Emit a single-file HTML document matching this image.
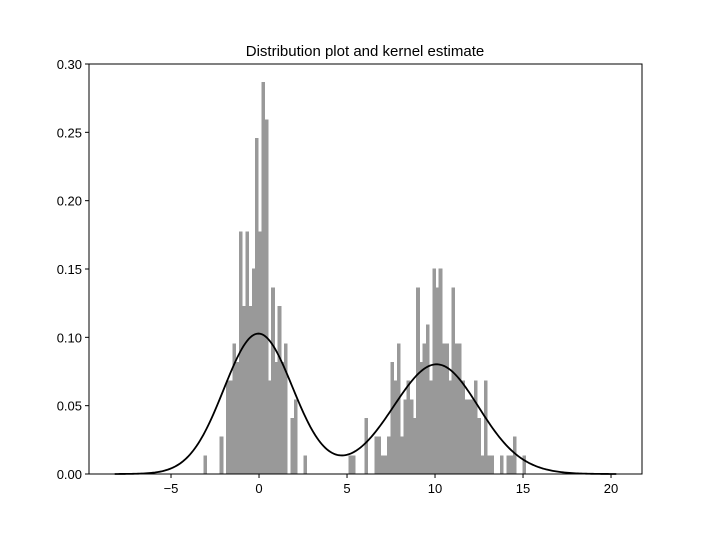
<!DOCTYPE html>
<html><head><meta charset="utf-8"><style>
body{margin:0;background:#fff;}
svg text{font-family:"Liberation Sans","DejaVu Sans",sans-serif;}
</style></head><body>
<svg id="chart" width="713" height="533" viewBox="0 0 713 533">
<rect width="713" height="533" fill="#fff"/>
<text x="365" y="56" text-anchor="middle" font-size="15">Distribution plot and kernel estimate</text>
<g id="bars"></g>
<path id="kde" fill="none" stroke="#000" stroke-width="1.8"/>
<g id="axes"></g>
</svg>
<script>
const binStart = -3.15;
const binWidth = 0.183;
const sampleCount = 400;
const binCounts = [
1,0,0,0,0,2,0,5,5,7,6,13,9,13,9,11,18,13,21,19,5,10,6,9,6,7,0,3,4,0,0,1,0,0,0,0,0,0,0,0,0,0,0,0,0,
1,1,0,0,0,3,0,0,2,2,1,1,2,6,5,7,2,4,5,4,3,10,6,7,8,5,11,10,11,7,7,5,10,7,7,5,4,4,4,5,3,1,5,1,1,0,0,1,0,1,1,2,0,0,1
];
const yTicks = [0,0.05,0.10,0.15,0.20,0.25,0.30];
const yTickLabels = ["0.00","0.05","0.10","0.15","0.20","0.25","0.30"];
const xTicks = [-5,0,5,10,15,20];
const xTickLabels = ["\u22125","0","5","10","15","20"];
const kdeBandwidth = 1.7;
const kdeRange = [-8.2, 20.3];

const L=89,R=642,T=64,B=474;
const xMin=-9.66,xMax=21.76,yMax=0.30;
const sx=v=>L+(v-xMin)/(xMax-xMin)*(R-L);
const sy=v=>B-v/yMax*(B-T);
const NS="http://www.w3.org/2000/svg";
const mk=(t,a)=>{const e=document.createElementNS(NS,t);for(const k in a)e.setAttribute(k,a[k]);return e;};

const bars=document.getElementById('bars');
binCounts.forEach((c,i)=>{
  if(!c)return;
  const x0=binStart+i*binWidth, d=c/(sampleCount*binWidth);
  const r=mk('rect',{x:sx(x0),y:sy(d),width:sx(x0+binWidth)-sx(x0)+0.4,height:sy(0)-sy(d),fill:'#999','shape-rendering':'crispEdges'});
  
  
  bars.appendChild(r);
});

let total=0;binCounts.forEach(c=>total+=c);
let pts=[];
for(let k=0;k<=300;k++){
  const x=kdeRange[0]+(kdeRange[1]-kdeRange[0])*k/300;
  let s=0;
  binCounts.forEach((c,i)=>{const m=binStart+(i+0.5)*binWidth;const z=(x-m)/kdeBandwidth;s+=c*Math.exp(-0.5*z*z);});
  const y=s/(total*kdeBandwidth*Math.sqrt(2*Math.PI));
  pts.push((k?'L':'M')+sx(x).toFixed(2)+','+sy(y).toFixed(2));
}
document.getElementById('kde').setAttribute('d',pts.join(''));

const ax=document.getElementById('axes');
const frame=mk('rect',{x:L,y:T,width:R-L,height:B-T,fill:'none',stroke:'#000','stroke-width':1});


ax.appendChild(frame);
yTicks.forEach((v,i)=>{
  const y=sy(v);
  ax.appendChild(mk('line',{x1:L-4,x2:L,y1:y,y2:y,stroke:'#000'}));
  const t=mk('text',{x:L-7,y:y+5,'text-anchor':'end','font-size':13});
  t.textContent=yTickLabels[i];
  
  
  ax.appendChild(t);
});
xTicks.forEach((v,i)=>{
  const x=sx(v);
  ax.appendChild(mk('line',{x1:x,x2:x,y1:B,y2:B+4,stroke:'#000'}));
  const t=mk('text',{x:x,y:B+19,'text-anchor':'middle','font-size':13});
  t.textContent=xTickLabels[i];
  
  
  ax.appendChild(t);
});
</script>
</body></html>
